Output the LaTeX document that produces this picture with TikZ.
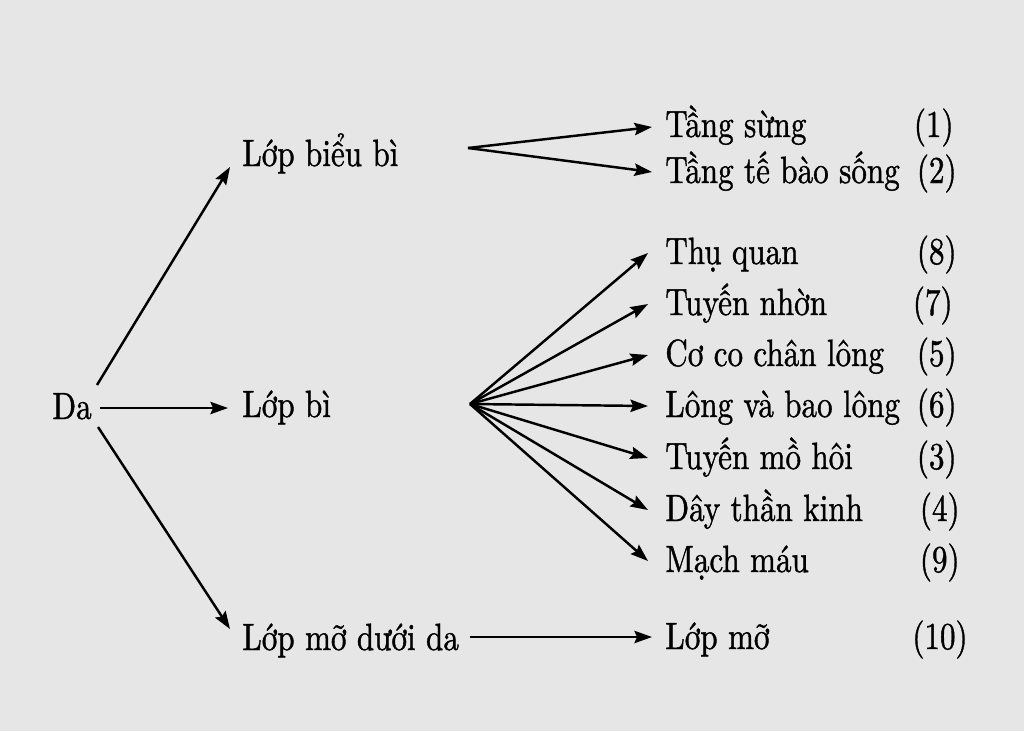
\documentclass[tikz,border=0pt]{standalone}
\usepackage{fontspec}
\usetikzlibrary{arrows.meta,calc}
\definecolor{bg}{RGB}{230,230,230}
\newfontfamily\vfont{lmroman10-regular.otf}[FakeBold=1.2]
\newcommand{\sx}[1]{\scalebox{0.82}[1]{#1}}
\begin{document}
\begin{tikzpicture}[x=0.02cm,y=-0.02cm,
  lbl/.style={inner sep=0pt, anchor=base west, font=\vfont\fontsize{21.6pt}{26pt}\selectfont},
  num/.style={inner sep=0pt, anchor=base east, font=\vfont\fontsize{21.6pt}{26pt}\selectfont},
  arr/.style={line width=1.4pt, -{Stealth[length=10pt,width=7pt,inset=1.5pt]}}]
\fill[bg] (0,0) rectangle (1024,731);
\useasboundingbox (0,0) rectangle (1024,731);
% left
\node[lbl] (da) at (52,419) {\sx{Da}};
\node[lbl] (b1) at (242,166) {\sx{Lớp biểu bì}};
\node[lbl] (b2) at (242,417) {\sx{Lớp bì}};
\node[lbl] (b3) at (242,650) {\sx{Lớp mỡ dưới da}};
% right
\node[lbl] (t1) at (665,137) {\sx{Tầng sừng}};
\node[lbl] (t2) at (665,183) {\sx{Tầng tế bào sống}};
\node[lbl] (r1) at (665,264) {\sx{Thụ quan}};
\node[lbl] (r2) at (665,315) {\sx{Tuyến nhờn}};
\node[lbl] (r3) at (665,366) {\sx{Cơ co chân lông}};
\node[lbl] (r4) at (665,417) {\sx{Lông và bao lông}};
\node[lbl] (r5) at (665,469) {\sx{Tuyến mồ hôi}};
\node[lbl] (r6) at (665,521) {\sx{Dây thần kinh}};
\node[lbl] (r7) at (665,572) {\sx{Mạch máu}};
\node[lbl] (lm) at (665,649) {\sx{Lớp mỡ}};
% numbers
\node[num] (n1) at (954,137) {\sx{(1)}};
\node[num] (n2) at (957,183) {\sx{(2)}};
\node[num] (n8) at (957,264) {\sx{(8)}};
\node[num] (n7) at (953,315) {\sx{(7)}};
\node[num] (n5) at (957,366) {\sx{(5)}};
\node[num] (n6) at (957,417) {\sx{(6)}};
\node[num] (n3) at (957,469) {\sx{(3)}};
\node[num] (n4) at (960,521) {\sx{(4)}};
\node[num] (n9) at (960,572) {\sx{(9)}};
\node[num] (n10) at (968,649) {\sx{(10)}};
% fan origins
\coordinate (f1) at ($(b1.base west)+(226,-18)$);
\coordinate (f2) at ($(b2.base west)+(228,-13)$);
% arrows from Da
\draw[arr] ($(da.base west)+(45,-34)$) -- ($(b1.base west)+(-12,1)$);
\draw[arr] ($(da.base west)+(48,-11)$) -- ($(b2.base west)+(-14,-9)$);
\draw[arr] ($(da.base west)+(46,8)$) -- ($(b3.base west)+(-12,-21)$);
% epidermis
\draw[arr] (f1) -- ($(t1.base west)+(-13,-10)$);
\draw[arr] (f1) -- ($(t2.base west)+(-13,-11)$);
% dermis
\foreach \r in {r1,r2,r3,r4,r5,r6,r7}
  \draw[arr] (f2) -- ($(\r.base west)+(-17,-11)$);
% hypodermis
\draw[arr] ($(b3.base west)+(228,-13)$) -- ($(lm.base west)+(-13,-12)$);
\end{tikzpicture}
\end{document}
